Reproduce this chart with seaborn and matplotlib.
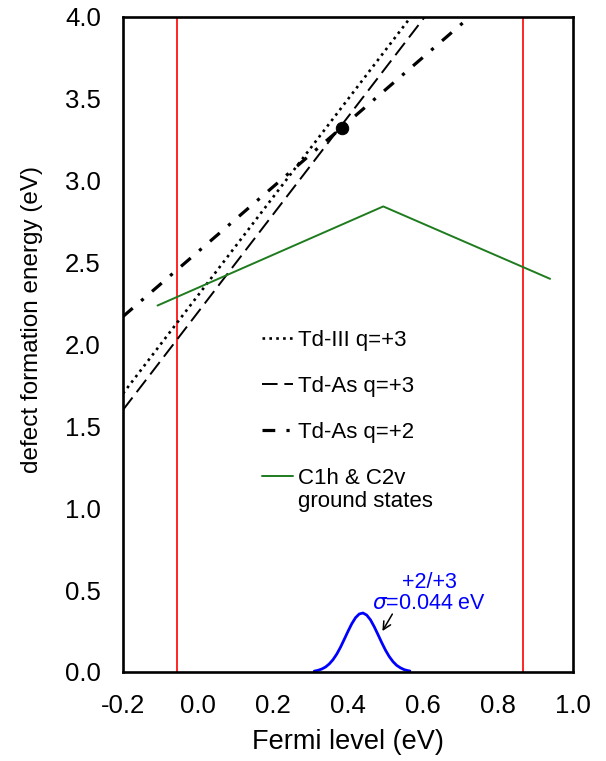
import matplotlib
matplotlib.use("Agg")
import matplotlib.pyplot as plt
import seaborn as sns

# ---- data ----
td3_x = [-0.2, 0.568]
td3_y = [1.70, 4.0]
tdas3_x = [-0.2, 0.605]
tdas3_y = [1.60, 4.0]
tdas2_x = [-0.2, 0.71]
tdas2_y = [2.17, 3.97]
gs_x = [-0.108, 0.494, 0.939]
gs_y = [2.237, 2.842, 2.40]
dot_x = [0.383]
dot_y = [3.32]
vbm_cbm = [-0.056, 0.866]
gauss_x = [0.31, 0.32, 0.33, 0.34, 0.35, 0.36, 0.37, 0.38, 0.39, 0.40, 0.41,
           0.42, 0.43, 0.44, 0.45, 0.46, 0.47, 0.48, 0.49, 0.50, 0.51, 0.52,
           0.53, 0.54, 0.55, 0.56, 0.565]
gauss_y = [0.005, 0.010, 0.018, 0.030, 0.049, 0.075, 0.109, 0.151, 0.199, 0.248,
           0.294, 0.331, 0.354, 0.360, 0.347, 0.318, 0.276, 0.228, 0.179, 0.133,
           0.094, 0.063, 0.040, 0.025, 0.014, 0.008, 0.006]
labels = ["Td-III q=+3", "Td-As q=+3", "Td-As q=+2", "C1h & C2v"]
label4_line2 = "ground states"
xticks = [-0.2, 0.0, 0.2, 0.4, 0.6, 0.8, 1.0]
yticks = [0.0, 0.5, 1.0, 1.5, 2.0, 2.5, 3.0, 3.5, 4.0]

sns.set_theme(style="white")
plt.rcParams["font.family"] = ["Liberation Sans", "DejaVu Sans"]
plt.rcParams["mathtext.fontset"] = "dejavusans"
plt.rcParams["text.color"] = "black"
plt.rcParams["axes.labelcolor"] = "black"

fig = plt.figure(figsize=(6.06, 7.61), dpi=100)
ax = fig.add_axes([0.203, 0.117, 0.7425, 0.861])

for xv in vbm_cbm:
    ax.axvline(xv, color="#ff0000", lw=1.2, zorder=1)

sns.lineplot(x=td3_x, y=td3_y, ax=ax, color="black", lw=1.9,
             linestyle=(0, (1, 1.6)), label=labels[0], sort=False)
sns.lineplot(x=tdas3_x, y=tdas3_y, ax=ax, color="black", lw=1.4,
             linestyle=(0, (8, 3.5)), label=labels[1], sort=False)
sns.lineplot(x=tdas2_x, y=tdas2_y, ax=ax, color="black", lw=2.3,
             linestyle=(0, (4, 3.5, 1, 3.5)), label=labels[2], sort=False)
sns.lineplot(x=gs_x, y=gs_y, ax=ax, color="#1e7b1e", lw=1.4,
             label=labels[3], sort=False)
sns.lineplot(x=gauss_x, y=gauss_y, ax=ax, color="#0000ff", lw=2.0, sort=False,
             legend=False)
sns.scatterplot(x=dot_x, y=dot_y, ax=ax, color="black", s=80, zorder=5,
                legend=False, edgecolor="black")

ax.set_xlim(-0.2, 1.0)
ax.set_ylim(0.0, 4.0)
ax.set_xticks(xticks)
ax.set_yticks(yticks)
ax.set_xticklabels([f"{v:.1f}" for v in xticks])
ax.set_yticklabels([f"{v:.1f}" for v in yticks])
ax.tick_params(axis="both", direction="in", length=7, width=1.8,
               labelsize=18.5, colors="black")
ax.tick_params(axis="y", pad=16)
ax.tick_params(axis="x", pad=16)
for s in ax.spines.values():
    s.set_linewidth(1.9)
    s.set_color("black")

ax.set_xlabel("Fermi level (eV)", fontsize=19.5, labelpad=8)
ax.set_ylabel("defect formation energy (eV)", fontsize=17.5)
ax.yaxis.set_label_coords(-0.178, 0.538)

ax.text(0.617, 0.485, "+2/+3\n$\\sigma$=0.044 eV", color="#0000ff", fontsize=15.5,
        ha="center", va="center", multialignment="center", linespacing=1.0)
ax.annotate("", xy=(0.488, 0.235), xytext=(0.522, 0.368),
            arrowprops=dict(arrowstyle="->", color="black", lw=1.1,
                            mutation_scale=14))

leg = ax.legend(loc="upper left", bbox_to_anchor=(0.309, 0.522),
                frameon=False, fontsize=16, handlelength=1.4,
                handletextpad=0.2, labelspacing=1.13, borderaxespad=0,
                borderpad=0)
ax.text(0.389, 0.2595, label4_line2, transform=ax.transAxes, ha="left",
        va="center", fontsize=16, color="black")
fig.savefig("out.png", dpi=100)
